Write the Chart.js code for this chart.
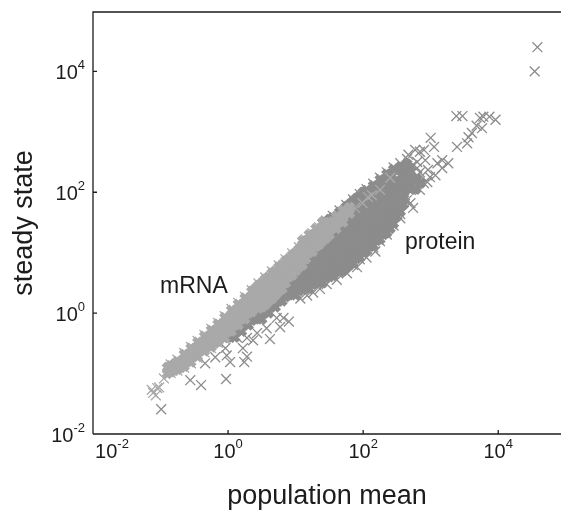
<!DOCTYPE html>
<html>
<head>
<meta charset="utf-8">
<style>html,body{margin:0;padding:0;background:#fff}#w{width:561px;height:510px;position:relative}</style>
<script src="https://cdn.jsdelivr.net/npm/chart.js@4"></script>
</head>
<body>
<div id="w"><canvas id="c" width="561" height="510"></canvas></div>
<script>
// All values below are log10 readings off the two logarithmic axes.
const tickExponents = [-2, 0, 2, 4];
const axisTitleX = 'population mean';
const axisTitleY = 'steady state';
const seriesLabels = ['mRNA', 'protein'];

// Dense body of the mRNA cloud: one log mean per column, its log steady-state values.
const mrnaBodyMean = [-0.9,-0.8,-0.7,-0.6,-0.5,-0.4,-0.3,-0.2,-0.1,0,0.1,0.2,0.3,0.4,0.5,0.6,0.7,0.8,0.9,1.0,1.1,1.2,1.3,1.4,1.5,1.6,1.7,1.8];
const mrnaBodySteady = [
 [-0.9,-1.0],[-0.85,-0.95],[-0.8,-0.9],[-0.7,-0.8],[-0.6,-0.7],[-0.5,-0.6],[-0.4,-0.5],[-0.3,-0.4,-0.5],[-0.2,-0.3,-0.4],
 [-0.1,-0.2,-0.3],[0,-0.1,-0.2],[0.1,0,-0.1],[0.2,0.1,0],[0.4,0.3,0.2,0.1],[0.5,0.4,0.3,0.2,0.1],[0.6,0.5,0.4,0.3,0.2],
 [0.7,0.6,0.5,0.4,0.3],[0.8,0.7,0.6,0.5,0.4],[0.9,0.8,0.7,0.6],[1.0,0.9,0.8,0.7],[1.2,1.1,1.0,0.9,0.8],[1.3,1.2,1.1,1.0],
 [1.4,1.3,1.2,1.1],[1.5,1.4,1.3,1.2],[1.5,1.4,1.3],[1.6,1.5,1.4],[1.7,1.6,1.5],[1.75,1.65]
];
// Body points on the half columns that close the mRNA outline.
const mrnaBodyEdge = [
 [-0.85,-0.87],[-0.75,-0.8],[-0.65,-0.68],[-0.55,-0.58],[-0.45,-0.48],[-0.35,-0.38],[-0.25,-0.28],[-0.15,-0.18],[-0.05,-0.07],
 [0.05,0.05],[0.15,0.15],[0.25,0.25],[0.35,0.36],[0.45,0.46],[0.55,0.56],[0.65,0.66],[0.75,0.76],[0.85,0.86],[0.95,0.96],[1.05,1.06],
 [1.15,1.19],[1.25,1.29],[1.35,1.39],[1.45,1.49],[-0.85,-0.97],[-0.75,-0.93],[-0.65,-0.88],[-0.55,-0.81],[-0.45,-0.72],[-0.35,-0.63],
 [-0.25,-0.56],[-0.15,-0.47],[-0.05,-0.41],[0.05,-0.3],[0.15,-0.2],[0.25,-0.1],[0.35,0.02],[0.45,0.08],[0.55,0.14],[0.65,0.24],[0.75,0.36],[0.85,0.5],
 [0.95,0.63],[1.05,0.76],[1.15,0.9],[1.25,1.02],[1.35,1.14],[1.45,1.24],
 [-0.65,-0.78],[-0.55,-0.69],[-0.45,-0.6],[-0.35,-0.5],[-0.25,-0.42],[-0.15,-0.32]
];
// Single mRNA crosses along the edges and in the thin tail.
const mrnaLoose = [
 [-0.85,-0.85],[-0.75,-0.77],[-0.65,-0.66],[-0.55,-0.56],[-0.45,-0.46],[-0.35,-0.36],[-0.25,-0.26],[-0.15,-0.16],[-0.05,-0.05],
 [0.05,0.07],[0.15,0.17],[0.25,0.27],[0.35,0.38],[0.45,0.49],[0.55,0.59],[0.65,0.69],[0.75,0.79],[0.85,0.89],[0.95,0.99],[1.05,1.09],
 [1.15,1.22],[1.25,1.32],[1.35,1.42],[1.45,1.52],[-0.85,-0.99],[-0.75,-0.95],[-0.65,-0.9],[-0.55,-0.83],[-0.45,-0.74],[-0.35,-0.65],
 [-0.25,-0.58],[-0.15,-0.49],[-0.05,-0.43],[1.88,1.74],[1.99,1.82],[2.07,1.92],[2.13,1.95],[2.25,2.04],[2.40,2.24],
 [-1.11,-1.32],[-1.05,-1.24],[-1.13,-1.27],[-1.07,-1.36],[-1.02,-1.23],[-0.95,-1.08]
];

// Dense body of the protein cloud.
const proteinBodyMean = [0,0.1,0.2,0.3,0.4,0.5,0.6,0.7,0.8,0.9,1.0,1.1,1.2,1.3,1.4,1.5,1.6,1.7,1.8,1.9,2.0,2.1,2.2,2.3,2.4,2.5,2.6,2.7];
const proteinBodySteady = [
 [-0.4],[-0.3,-0.4],[-0.2,-0.3],[-0.1,-0.2],[0,-0.1],[0.1,0,-0.1],[0.2,0.1,0],[0.3,0.2,0.1],[0.4,0.3,0.2],[0.6,0.5,0.4,0.3],
 [0.7,0.6,0.5,0.4,0.3],[1.0,0.9,0.8,0.7,0.6,0.5,0.4],[1.1,1.0,0.9,0.8,0.7,0.6,0.5,0.4],[1.2,1.1,1.0,0.9,0.8,0.7,0.6,0.5],
 [1.5,1.4,1.3,1.2,1.1,1.0,0.9,0.8,0.7,0.6,0.5],[1.55,1.5,1.4,1.3,1.2,1.1,1.0,0.9,0.8,0.7,0.6],[1.6,1.5,1.4,1.3,1.2,1.1,1.0,0.9,0.8,0.7],
 [1.7,1.6,1.5,1.4,1.3,1.2,1.1,1.0,0.9,0.8,0.7],[1.8,1.7,1.6,1.5,1.4,1.3,1.2,1.1,1.0,0.9,0.8],[1.9,1.8,1.7,1.6,1.5,1.4,1.3,1.2,1.1,1.0,0.9],
 [2.0,1.9,1.8,1.7,1.6,1.5,1.4,1.3,1.2,1.1,1.0],[2.0,1.9,1.8,1.7,1.6,1.5,1.4,1.3,1.2,1.1],[2.1,2.0,1.9,1.8,1.7,1.6,1.5,1.4,1.3,1.2],
 [2.2,2.1,2.0,1.9,1.8,1.7,1.6,1.5,1.4,1.3],[2.3,2.2,2.1,2.0,1.9,1.8,1.7,1.6,1.5,1.4],[2.35,2.2,2.1,2.0,1.9,1.8,1.7,1.6],
 [2.4,2.3,2.2,2.1,2.0,1.9,1.8],[2.35,2.25,2.15,2.05]
];
// Body points on the half columns that close the protein outline, and the frayed upper tip.
const proteinBodyEdge = [
 [0.35,-0.12],[0.45,-0.05],[0.55,0.05],[0.65,0.12],[0.75,0.2],[0.85,0.27],[0.95,0.33],[1.05,0.37],[1.15,0.42],[1.25,0.47],[1.35,0.52],[1.45,0.58],
 [1.55,0.62],[1.65,0.68],[1.75,0.75],[1.85,0.83],[1.95,0.92],[2.05,1.03],[2.15,1.12],[2.25,1.22],[2.35,1.33],[2.45,1.48],[2.55,1.68],
 [1.45,1.5],[1.55,1.58],[1.65,1.67],[1.75,1.76],[1.85,1.85],[1.95,1.94],[2.05,2.03],[2.15,2.11],[2.25,2.21],[2.35,2.3],[2.45,2.38],
 [2.55,2.42],[2.65,2.47],[2.8,2.22],[2.85,2.15],[2.78,2.05]
];
// Single protein crosses: edges and outliers.
const proteinLoose = [
 [4.58,4.40],[4.54,4.00],[3.38,3.26],[3.47,3.26],[3.96,3.20],[3.87,3.25],[3.78,3.25],[3.73,3.23],[3.68,3.10],[3.76,3.06],[3.61,2.98],
 [3.56,2.91],[3.54,2.81],[3.39,2.75],[3.00,2.90],[3.05,2.75],[2.84,2.67],[2.77,2.70],[3.26,2.48],[3.17,2.53],[3.10,2.48],[3.17,2.40],
 [2.99,2.25],[2.95,2.17],[2.84,2.04],[2.74,1.74],[2.70,1.82],[2.55,1.57],[2.92,2.53],[2.96,2.37],[2.80,2.28],[2.62,1.95],[2.84,2.33],
 [2.73,2.45],[3.07,2.28],[2.90,2.70],[2.67,2.62],[2.8,2.5],[2.8,2.4],[2.78,2.15],[2.9,2.15],
 [1.45,1.53],[1.55,1.61],[1.65,1.7],[1.75,1.79],[1.85,1.88],[1.95,1.97],[2.05,2.05],[2.15,2.14],[2.25,2.24],[2.35,2.33],[2.45,2.41],[2.55,2.48],[2.65,2.55],
 [1.85,0.8],[1.95,0.89],[2.15,1.09],[2.25,1.19],[2.35,1.3],[2.45,1.45],[2.55,1.64],[2.65,1.87],
 [-0.99,-1.59],[-0.03,-1.09],[-0.40,-1.19],[-0.56,-1.11],[-0.34,-0.83],[-0.19,-0.73],[-0.04,-0.58],[-0.02,-0.70],[0.03,-0.81],[0.24,-0.81],
 [0.28,-0.72],[0.22,-0.58],[0.37,-0.45],[0.62,-0.43],[0.57,-0.25],[0.77,-0.23],[0.90,-0.14],[0.82,-0.08],[0.72,-0.08],[0.13,-0.40],[0.28,-0.41],
 [0.43,-0.33],[1.36,0.40],[1.26,0.34],[1.17,0.29],[1.46,0.48],[1.07,0.24],[1.61,0.55],[1.76,0.66],[1.91,0.76],[2.05,0.92],[2.18,1.02]
];

const fromLog = ([a, b]) => ({ x: Math.pow(10, a), y: Math.pow(10, b) });
const expand = (means, lists) => means.flatMap((m, i) => lists[i].map(s => fromLog([m, s])));

const lightGrey = '#a9a9a9', darkGrey = '#8c8c8c', ink = '#1c1c1c';
const mark = (label, data, color, radius, width) => ({
  label, data, showLine: false, pointStyle: 'crossRot', pointRadius: radius,
  pointBorderColor: color, pointBackgroundColor: color, pointBorderWidth: width
});

const font = 'Liberation Sans, Arial, sans-serif';
const frame = {
  id: 'frame',
  afterDraw(chart) {
    const { ctx, chartArea: a, scales: { x, y } } = chart;
    ctx.save();
    ctx.strokeStyle = ink; ctx.lineWidth = 1.3;
    ctx.beginPath();
    ctx.moveTo(a.left, a.bottom); ctx.lineTo(a.left, a.top); ctx.lineTo(a.right, a.top);
    ctx.moveTo(a.left, a.bottom); ctx.lineTo(a.right, a.bottom);
    x.ticks.forEach(t => { const p = x.getPixelForValue(t.value); ctx.moveTo(p, a.bottom); ctx.lineTo(p, a.bottom - 4); });
    y.ticks.forEach(t => { const p = y.getPixelForValue(t.value); ctx.moveTo(a.left, p); ctx.lineTo(a.left + 4, p); });
    ctx.stroke();

    ctx.fillStyle = ink; ctx.textBaseline = 'alphabetic';
    const power = (exp, cx, base, align) => {
      const sup = String(exp);
      ctx.font = '20px ' + font; const w1 = ctx.measureText('10').width;
      ctx.font = '13px ' + font; const w2 = ctx.measureText(sup).width;
      const left = align === 'right' ? cx - w1 - w2 : cx - (w1 + w2) / 2;
      ctx.textAlign = 'left';
      ctx.font = '20px ' + font; ctx.fillText('10', left, base);
      ctx.font = '13px ' + font; ctx.fillText(sup, left + w1, base - 10);
    };
    tickExponents.forEach(e => {
      const v = Math.pow(10, e);
      const px = x.getPixelForValue(v);
      power(e, e === tickExponents[0] ? px + 19 : px, 458, 'center');
      power(e, a.left - 8, y.getPixelForValue(v) + 8, 'right');
    });

    ctx.textAlign = 'center'; ctx.font = '27px ' + font;
    ctx.fillText(axisTitleX, (a.left + a.right) / 2, 504);
    ctx.translate(32, (a.top + a.bottom) / 2); ctx.rotate(-Math.PI / 2);
    ctx.fillText(axisTitleY, 0, 0);
    ctx.restore();

    ctx.save();
    ctx.fillStyle = ink; ctx.font = '23px ' + font; ctx.textAlign = 'left'; ctx.textBaseline = 'alphabetic';
    ctx.fillText(seriesLabels[0], 160, 293);
    ctx.fillText(seriesLabels[1], 405, 249);
    ctx.restore();
  }
};

const makeAxis = (min, max, fit) => ({
  type: 'logarithmic', min, max,
  afterBuildTicks: s => { s.ticks = tickExponents.map(e => ({ value: Math.pow(10, e) })); },
  afterFit: fit,
  grid: { display: false, drawTicks: false },
  border: { display: false },
  ticks: { display: false }
});

new Chart(document.getElementById('c'), {
  type: 'scatter',
  data: { datasets: [
    mark('mRNA edge', mrnaLoose.map(fromLog), lightGrey, 7, 1.3),
    mark('mRNA', expand(mrnaBodyMean, mrnaBodySteady).concat(mrnaBodyEdge.map(fromLog)), lightGrey, 5.5, 5),
    mark('protein edge', proteinLoose.map(fromLog), darkGrey, 7, 1.3),
    mark('protein', expand(proteinBodyMean, proteinBodySteady).concat(proteinBodyEdge.map(fromLog)), darkGrey, 5.5, 5)
  ] },
  options: {
    responsive: false, animation: false,
    layout: { autoPadding: false, padding: { top: 12, right: 0, left: 0, bottom: 0 } },
    plugins: { legend: { display: false }, tooltip: { enabled: false }, title: { display: false } },
    scales: {
      x: makeAxis(0.01, 85000, s => { s.height = 76; }),
      y: makeAxis(0.01, 96000, s => { s.width = 93; })
    }
  },
  plugins: [frame]
});
</script>
</body>
</html>
